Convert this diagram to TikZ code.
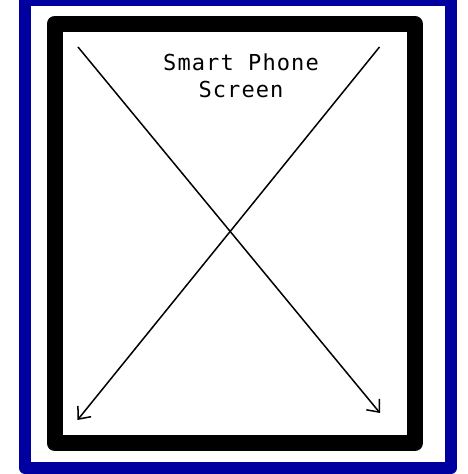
\documentclass[tikz,border=0pt]{standalone}
\usepackage{fontspec}
\usepackage{xcolor}
\usepackage{tikz}
\usetikzlibrary{arrows.meta}
\newfontfamily\ekranfont[LetterSpace=5]{DejaVu Sans Mono}
\definecolor{cerceve}{RGB}{0,0,160}
\tikzset{
  dis/.style={draw=cerceve, line width=12pt, line join=round},
  govde/.style={draw=black, line width=16pt, line join=round},
  etiket/.style={inner sep=0pt, align=center, font=\ekranfont\fontsize{22}{27.5}\selectfont},
  ok/.style={-{Straight Barb[length=10pt, width=17pt]}, line width=1.5pt},
}

\begin{document}
\begin{tikzpicture}[x=1pt, y=-1pt]
  \useasboundingbox (0,0) rectangle (467,474);
  \clip (0,0) rectangle (467,474);
  % Dış çerçeve ve telefon gövdesi
  \draw[dis] (25,0) rectangle (451,468);
  \draw[govde] (54.7,23.7) rectangle (414.7,443.3);
  % Ekran yazısı
  \node[etiket, anchor=base] (ekran) at (241,97.5) {Smart Phone\\Screen};
  % Köşegen oklar
  \coordinate (solust) at (78,47);
  \coordinate (sagust) at (379.5,47);
  \coordinate (sagalt) at (380,413);
  \coordinate (solalt) at (77.5,420);
  \draw[ok] (solust) -- (sagalt);
  \draw[ok] (sagust) -- (solalt);
\end{tikzpicture}
\end{document}
